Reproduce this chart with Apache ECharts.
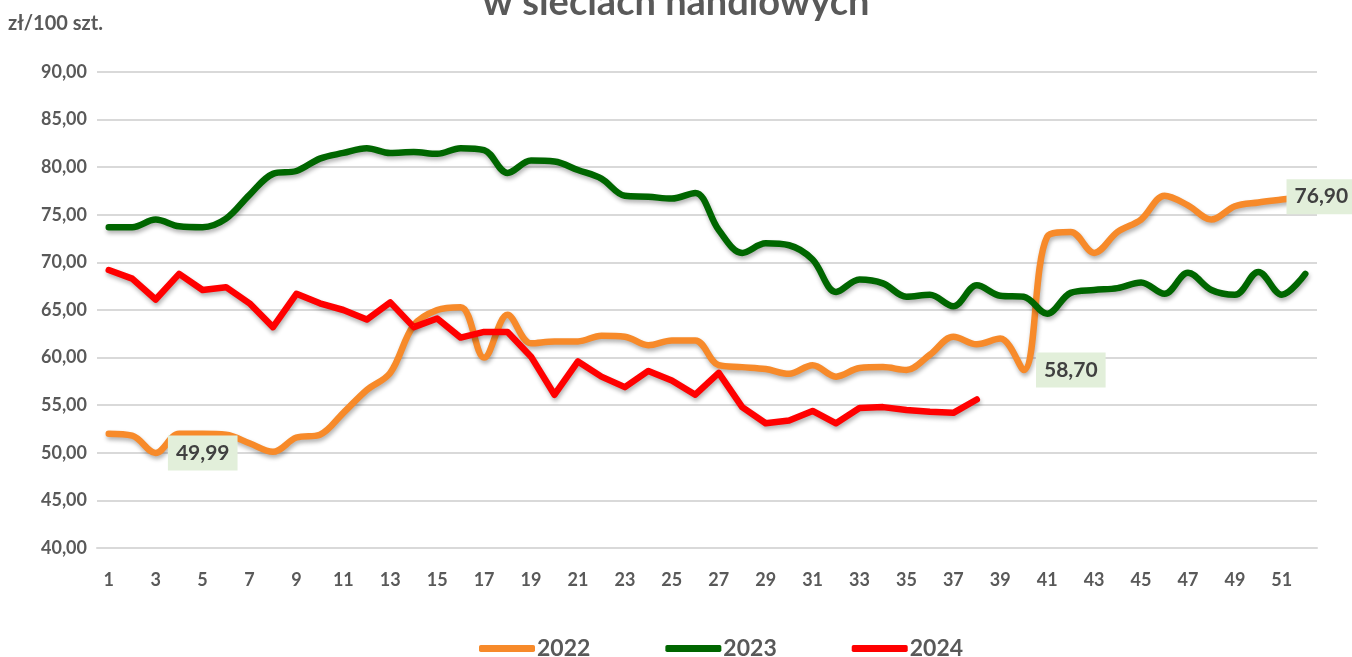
<!DOCTYPE html>
<html>
    <head>
        <title>Ceny jaj w sieciach handlowych</title>
        <meta charset="UTF-8">
        <script src="https://cdn.jsdelivr.net/npm/echarts@6/dist/echarts.min.js"></script>
        <style>
            body {
                margin: 0;
                background-color: #fff;
            }
            #main {
                width: 1352px;
                height: 657px;
            }
        </style>
    </head>
    <body>
        <div id="main"></div>
        <script>
            // tygodnie 1..52
            var weeks = ['1', '2', '3', '4', '5', '6', '7', '8', '9', '10', '11', '12', '13',
                '14', '15', '16', '17', '18', '19', '20', '21', '22', '23', '24', '25', '26',
                '27', '28', '29', '30', '31', '32', '33', '34', '35', '36', '37', '38', '39',
                '40', '41', '42', '43', '44', '45', '46', '47', '48', '49', '50', '51', '52'];

            var years = ['2022', '2023', '2024'];

            var y2022 = [52.0, 51.8, 49.99, 52.0, 52.0, 51.9, 51.0, 50.1, 51.6, 51.9,
                54.2, 56.6, 58.4, 63.4, 65.0, 65.3, 60.0, 64.5, 61.5, 61.7,
                61.7, 62.3, 62.2, 61.3, 61.8, 61.8, 59.2, 59.0, 58.8, 58.3,
                59.2, 58.0, 58.9, 59.0, 58.7, 60.3, 62.2, 61.4, 62.0, 58.70,
                72.7, 73.2, 71.0, 73.2, 74.5, 77.0, 76.0, 74.5, 75.9, 76.3,
                76.6, 76.90];

            var y2023 = [73.7, 73.7, 74.5, 73.8, 73.7, 74.6, 77.1, 79.3, 79.6, 80.9,
                81.5, 82.0, 81.5, 81.6, 81.4, 82.0, 81.8, 79.4, 80.7, 80.6,
                79.7, 78.8, 77.0, 76.9, 76.7, 77.3, 73.4, 71.0, 72.0, 71.8,
                70.3, 66.9, 68.2, 67.8, 66.4, 66.6, 65.4, 67.6, 66.5, 66.4,
                64.6, 66.8, 67.1, 67.3, 67.9, 66.7, 68.9, 67.1, 66.6, 69.0,
                66.6, 68.8];

            var y2024 = [69.2, 68.3, 66.1, 68.8, 67.1, 67.4, 65.7, 63.2, 66.7, 65.7,
                65.0, 64.0, 65.8, 63.2, 64.1, 62.1, 62.7, 62.7, 60.1, 56.1,
                59.6, 58.0, 56.9, 58.6, 57.6, 56.1, 58.4, 54.8, 53.1, 53.4,
                54.4, 53.1, 54.7, 54.8, 54.5, 54.3, 54.2, 55.6];

            // etykiety danych dla 2022 (indeksy tygodni)
            var labelWeeks2022 = [2, 39, 51];

            var colors = ['#F78A2A', '#006600', '#FF0000'];
            var txt = '#595959';
            var font = 'Lato';

            function fmt(v) {
                return v.toFixed(2).replace('.', ',');
            }

            var labelBox = {
                show: true,
                position: 'right',
                distance: 12,
                formatter: function (p) { return fmt(p.value); },
                backgroundColor: '#E2EFDA',
                padding: [8, 8, 6, 8],
                color: '#404040',
                fontFamily: font,
                fontWeight: 'bold',
                fontSize: 21
            };

            var data2022 = y2022.map(function (v, i) {
                if (labelWeeks2022.indexOf(i) < 0) return v;
                var l = Object.assign({}, labelBox);
                if (i === 51) { l.distance = 2; l.offset = [-21, 0]; }
                return { value: v, label: l };
            });

            var shadow = {
                shadowColor: 'rgba(0,0,0,0.3)',
                shadowBlur: 4,
                shadowOffsetX: 1,
                shadowOffsetY: 3
            };

            function line(name, data, color, smooth) {
                return {
                    name: name,
                    type: 'line',
                    data: data,
                    smooth: smooth,
                    symbol: 'circle',
                    symbolSize: 0.5,
                    showSymbol: true,
                    showAllSymbol: true,
                    itemStyle: { color: color },
                    color: color,
                    lineStyle: Object.assign({ width: 6.5, color: color, cap: 'round', join: 'round' }, shadow),
                    z: 2
                };
            }

            var chart = echarts.init(document.getElementById('main'));
            var option = {
                animation: false,
                textStyle: { fontFamily: font },
                title: [{
                    text: 'w sieciach handlowych',
                    left: 'center',
                    top: -21,
                    textStyle: { fontSize: 38, fontWeight: 'bold', color: txt, fontFamily: font }
                }, {
                    text: 'zł/100 szt.',
                    left: 3,
                    top: 9,
                    textStyle: { fontSize: 20, fontWeight: 'bold', color: txt, fontFamily: font }
                }],
                legend: {
                    data: years,
                    bottom: -8,
                    left: 474,
                    icon: 'roundRect',
                    itemWidth: 56,
                    itemHeight: 7,
                    itemGap: 75,
                    itemStyle: { opacity: 1 },
                    textStyle: { fontSize: 23, fontWeight: 'bold', color: txt, fontFamily: font, padding: [0, 0, 0, -3] }
                },
                grid: { left: 97, right: 35, top: 72, bottom: 109 },
                xAxis: {
                    type: 'category',
                    data: weeks,
                    boundaryGap: true,
                    axisTick: { show: false },
                    axisLine: { lineStyle: { color: '#D9D9D9', width: 2 } },
                    axisLabel: {
                        interval: 1,
                        margin: 23,
                        color: txt,
                        fontSize: 18,
                        fontWeight: 'bold',
                        fontFamily: font
                    }
                },
                yAxis: {
                    type: 'value',
                    min: 40,
                    max: 90,
                    interval: 5,
                    axisLine: { show: false },
                    axisTick: { show: false },
                    splitLine: { lineStyle: { color: '#D9D9D9', width: 2 } },
                    axisLabel: {
                        formatter: fmt,
                        margin: 10,
                        color: txt,
                        fontSize: 18,
                        fontWeight: 'bold',
                        fontFamily: font
                    }
                },
                series: [
                    line(years[0], data2022, colors[0], 0.35),
                    line(years[1], y2023, colors[1], 0.35),
                    line(years[2], y2024, colors[2], false)
                ]
            };
            chart.setOption(option);
        </script>
    </body>
</html>
